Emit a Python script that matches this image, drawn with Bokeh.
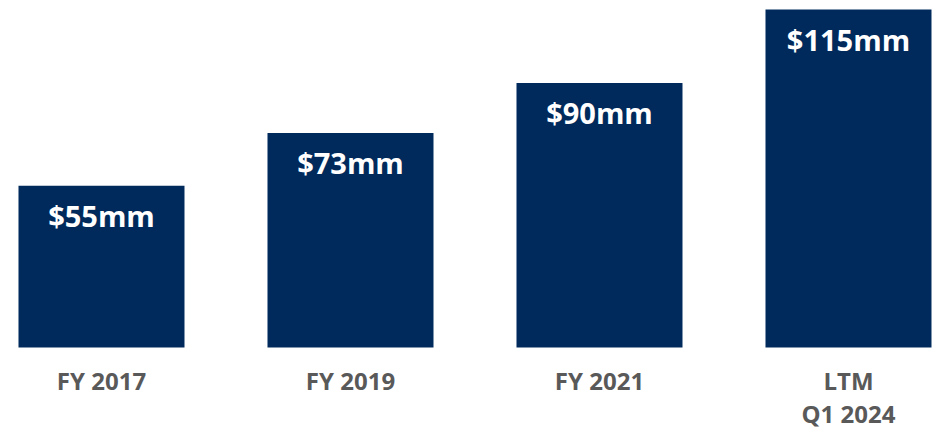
from bokeh.plotting import figure
from bokeh.models import Range1d, ColumnDataSource
from bokeh.core.properties import value
from bokeh.embed import file_html
from bokeh.resources import INLINE

categories = ["FY 2017", "FY 2019", "FY 2021", "LTM\nQ1 2024"]
revenue = [55, 73, 90, 115]
value_labels = ["$55mm", "$73mm", "$90mm", "$115mm"]

NAVY = "#002A5C"
GRAY = "#595959"

xs = list(range(len(categories)))
src = ColumnDataSource(dict(
    x=xs, top=revenue, lab=value_labels, cat=categories,
    ylab=[v - 10.2 for v in revenue],
    ycat=[-5.6] * len(categories),
))

p = figure(width=934, height=430, output_backend="svg", toolbar_location=None,
           x_range=Range1d(-0.4056, 3.3454), y_range=Range1d(-28.24, 118.07),
           min_border=0, outline_line_color=None)
p.axis.visible = False
p.grid.visible = False
p.background_fill_color = "white"
p.border_fill_color = "white"

p.vbar(x="x", top="top", bottom=0, width=0.6667, source=src,
       fill_color=NAVY, line_color=None)
p.text(x="x", y="ylab", text="lab", source=src, text_align="center",
       text_baseline="middle", text_color="white",
       text_font=value("Open Sans"), text_font_style="bold", text_font_size="29px")
p.text(x="x", y="ycat", text="cat", source=src, text_align="center",
       text_baseline="top", text_color=GRAY, text_line_height=1.0,
       text_font=value("Open Sans"), text_font_style="bold", text_font_size="24px")

open("out.html", "w").write(file_html(p, INLINE))
